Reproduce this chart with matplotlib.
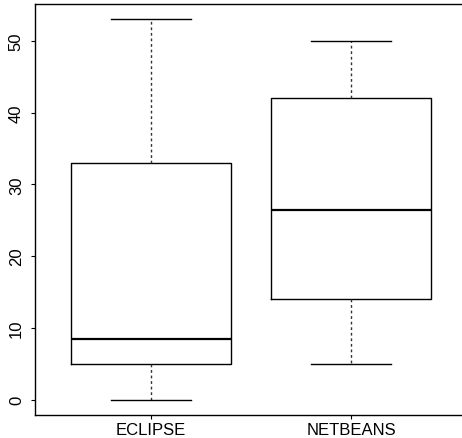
import matplotlib
matplotlib.use("Agg")
import matplotlib.pyplot as plt

plt.rcParams['font.family'] = ['Liberation Sans', 'DejaVu Sans']

labels = ["ECLIPSE", "NETBEANS"]
mins = [0, 5]
q1s = [5, 14]
medians = [8.5, 26.5]
q3s = [33, 42]
maxs = [53, 50]

stats = []
for i in range(len(labels)):
    stats.append({"label": labels[i], "whislo": mins[i], "q1": q1s[i],
                  "med": medians[i], "q3": q3s[i], "whishi": maxs[i], "fliers": []})

fig = plt.figure(figsize=(4.62, 4.39), dpi=100)
# right border of the plot box lies just outside the picture, as in the original
ax = fig.add_axes([35/462, 23/439, 432/462, 411/439])

ax.bxp(stats, positions=[1, 2], widths=0.8, showfliers=False,
       boxprops=dict(color="black", linewidth=1),
       medianprops=dict(color="black", linewidth=1.6),
       whiskerprops=dict(color="#333333", linewidth=1, linestyle=(0, (2, 2))),
       capprops=dict(color="black", linewidth=1),
       capwidths=0.4)

ax.set_xlim(0.42, 2.58)
ax.set_ylim(-2.12, 55.12)
ax.set_yticks([0, 10, 20, 30, 40, 50])
ax.set_xticks([1, 2])
ax.set_xticklabels(labels)
for lab in ax.get_yticklabels():
    lab.set_rotation(90)
    lab.set_va("center")
ax.tick_params(labelsize=12, length=3, width=0.8, colors="black")
ax.tick_params(axis="x", pad=2)
ax.tick_params(axis="y", pad=5)
for s in ax.spines.values():
    s.set_linewidth(1)
ax.spines["right"].set_visible(False)

fig.savefig("out.png", dpi=100)
